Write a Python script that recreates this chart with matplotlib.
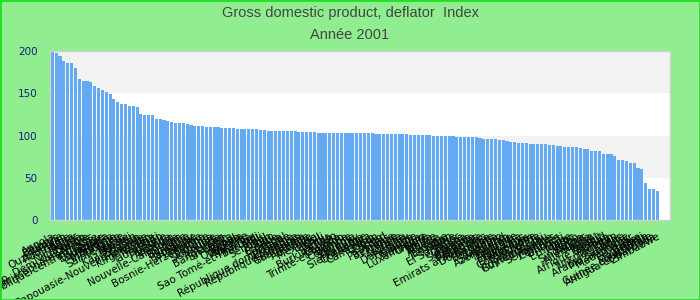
import matplotlib
matplotlib.use("Agg")
import matplotlib.pyplot as plt
from matplotlib.patches import Rectangle

# values, sorted descending
values = [
    198.8, 197.6, 194.0, 188.0, 185.8, 185.8, 179.9, 166.9, 164.5, 164.5,
    163.3, 158.6, 156.2, 153.8, 151.5, 149.1, 143.2, 139.6, 137.3, 137.3,
    134.9, 134.9, 133.7, 125.4, 124.3, 124.3, 124.3, 119.5, 119.5, 118.3,
    117.2, 116.0, 114.8, 114.8, 114.8, 113.6, 112.4, 111.2, 111.2, 111.2,
    110.1, 110.1, 110.1, 110.1, 108.9, 108.9, 108.9, 108.9, 107.7, 107.7,
    107.7, 107.7, 107.7, 107.7, 106.7, 106.7, 105.5, 105.5, 105.5, 105.5,
    105.5, 105.5, 105.5, 105.5, 104.3, 104.3, 104.3, 104.3, 104.3, 103.1,
    103.1, 103.1, 103.1, 103.1, 103.1, 103.1, 103.1, 103.1, 103.1, 103.1,
    103.1, 103.1, 103.1, 103.1, 101.9, 101.9, 101.9, 101.9, 101.9, 101.9,
    101.9, 101.9, 101.9, 100.7, 100.7, 100.7, 100.7, 100.7, 100.7, 99.6,
    99.6, 99.6, 99.6, 99.6, 99.6, 98.4, 98.4, 98.4, 98.4, 98.4,
    98.4, 97.2, 96.0, 96.0, 96.0, 96.0, 94.8, 94.8, 93.7, 92.5,
    92.5, 91.3, 91.3, 91.3, 90.1, 90.1, 90.1, 90.1, 90.1, 88.9,
    88.9, 87.7, 87.7, 86.5, 86.5, 86.5, 86.5, 85.4, 84.2, 84.2,
    81.8, 81.8, 81.8, 78.2, 78.2, 78.2, 75.9, 71.1, 71.1, 69.9,
    67.6, 67.6, 61.6, 60.5, 43.9, 36.8, 36.8, 34.4,
]

countries = [
    "Angola", "Bélarus", "Turquie", "Ouzbékistan", "Roumanie", "Ghana", "Niger", "Nicaragua", "Rép. Dém. du Congo", "Zambie",
    "Saint-Christophe-et-Niévès", "République centrafricaine", "Équateur", "Serbie", "Venezuela", "Moldavie", "Indonésie", "Ukraine", "Sainte-Lucie", "Russie",
    "Malawi", "Kazakhstan", "Soudan", "Papouasie-Nouvelle-Guinée", "Mongolie", "Kirghizistan", "Nigéria", "Haïti", "Tadjikistan", "Hongrie",
    "Islande", "Arménie", "Nouvelle-Calédonie", "Iran", "Bulgarie", "Pologne", "Paraguay", "Jamaïque", "Lettonie", "Bosnie-Herzégovine",
    "Estonie", "Lituanie", "Slovaquie", "Inde", "Pakistan", "Bangladesh", "Sri Lanka", "Népal", "Kenya", "Ouganda",
    "Tanzanie", "Rwanda", "Sao Tomé-et-Principe", "Burundi", "Mali", "Sénégal", "Bénin", "Togo", "Croatie", "Grèce",
    "Portugal", "République dominicaine", "Espagne", "République tchèque", "Honduras", "Guatemala", "Irlande", "Australie", "Mexique", "Brésil",
    "Chili", "Pérou", "Samoa", "Burkina Faso", "Canada", "Trinité-et-Tobago", "Bolivie", "Colombie", "Slovénie", "Uruguay",
    "Panama", "Sierra Leone", "Costa Rica", "Cameroun", "Gabon", "Congo", "Tchad", "Pays-Bas", "Belgique", "France",
    "Italie", "Autriche", "Danemark", "Finlande", "Suède", "Norvège", "Luxembourg", "Chypre", "Malte", "Tunisie",
    "Algérie", "Égypte", "Jordanie", "Liban", "Syrie", "El Salvador", "Belize", "Guyana", "Suriname", "Barbade",
    "Bahamas", "Grenade", "Emirats arabes unis", "Dominique", "Namibie", "Botswana", "Lesotho", "Swaziland", "Azerbaïdjan", "Géorgie",
    "Thaïlande", "Malaisie", "Etats-Unis", "Philippines", "Viet Nam", "Côte d'Ivoire", "Cambodge", "Royaume-Uni", "Guinée-Bissau", "Maurice",
    "Seychelles", "Comores", "Djibouti", "Éthiopie", "Chine", "Maroc", "Japon", "Corée", "Singapour", "Suisse",
    "Allemagne", "Israël", "Koweït", "Afrique du Sud", "Oman", "Bahreïn", "Turkménistan", "Qatar", "Arabie saoudite", "Mozambique",
    "Madagascar", "Érythrée", "Libye", "Brunei", "Mauritanie", "Guinée équatoriale", "Antigua-et-Barbuda", "Zimbabwe",
]

title = "Gross domestic product, deflator  Index"
subtitle = "Année 2001"
yticks = [0, 50, 100, 150, 200]

BG = "#90ee90"
BAR = "#63aaf2"

fig = plt.figure(figsize=(7, 3), dpi=100, facecolor=BG)
ax = fig.add_axes([0.0714, 0.2667, 0.8857, 0.5623])
ax.set_facecolor("white")

# alternating horizontal bands
for lo, hi in zip(yticks[:-1], yticks[1:]):
    if (lo // 50) % 2 == 1:
        ax.axhspan(lo, hi, color="#f2f2f2", zorder=0, lw=0)

x = list(range(len(values)))
ax.bar(x, values, width=0.8, color=BAR, zorder=2)

ax.set_ylim(0, 200)
ax.set_xlim(-0.6, len(values) + 2.3)
ax.set_yticks(yticks)
ax.tick_params(axis="y", length=0, pad=9, labelsize=7.5, labelcolor="#1a1a80")
ax.set_xticks(x)
ax.set_xticklabels(countries, rotation=28, ha="right", rotation_mode="anchor",
                   fontsize=7.5, color="black")
ax.tick_params(axis="x", length=0, pad=8)
for s in ax.spines.values():
    s.set_color("#d0d0d0")
    s.set_linewidth(1)

fig.text(0.5, 0.955, title, ha="center", va="center", fontsize=10.5,
         color="#444444", family="Liberation Sans")
fig.text(0.5, 0.882, subtitle, ha="center", va="center", fontsize=10.5,
         color="#444444", family="Liberation Sans")

# thin bright green frame around the figure
fig.patches.append(Rectangle((0, 0), 1, 1, transform=fig.transFigure,
                             fill=False, edgecolor="#22e022", lw=2))

fig.savefig("out.png", dpi=100, facecolor=BG)
